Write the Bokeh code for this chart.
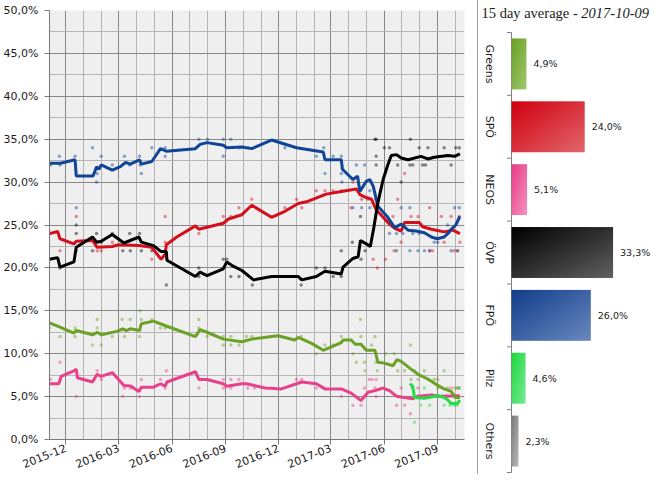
import math
import numpy as np
import pandas as pd
from bokeh.plotting import figure
from bokeh.models import FixedTicker, Range1d, DatetimeTickFormatter
from bokeh.layouts import row
from bokeh.embed import file_html
from bokeh.resources import INLINE
from bokeh.core.properties import value

# ---------------- data: 15 day averages (lines) ----------------
fpo_dates = ["2015-11-03","2015-11-22","2015-12-17","2015-12-19","2016-01-17","2016-01-23","2016-01-27","2016-01-31","2016-02-19","2016-03-04",
             "2016-03-13","2016-03-21","2016-04-06","2016-04-09","2016-04-27","2016-05-12","2016-05-22","2016-07-11","2016-07-19","2016-07-31",
             "2016-08-28","2016-09-03","2016-09-29","2016-10-16","2016-11-19","2017-01-01","2017-02-16","2017-02-19","2017-03-19","2017-03-21",
             "2017-04-08","2017-04-16","2017-04-20","2017-05-01","2017-05-07","2017-05-13","2017-05-21","2017-06-07","2017-06-19","2017-06-30",
             "2017-07-12","2017-07-26","2017-08-09","2017-08-21","2017-08-31","2017-09-12","2017-09-20","2017-09-24","2017-10-02","2017-10-09"]
fpo_vals = [32.2,32.2,32.6,30.7,30.7,31.8,31.5,32.0,31.4,31.8,
            32.3,32.1,32.6,32.1,32.4,33.9,33.6,33.9,34.4,34.6,
            34.3,34.0,34.1,33.9,34.9,34.0,33.5,32.6,32.6,31.5,
            30.3,30.7,28.9,30.1,30.3,29.5,27.2,25.9,24.7,25.1,
            24.4,24.3,24.1,23.6,23.4,23.6,24.1,24.5,25.0,26.0]

spo_dates = ["2015-11-03","2015-11-17","2015-11-21","2015-12-15","2015-12-19","2016-01-16","2016-01-24","2016-02-19","2016-03-01","2016-04-05",
             "2016-04-27","2016-05-13","2016-05-20","2016-05-22","2016-06-09","2016-07-11","2016-07-17","2016-08-28","2016-09-06","2016-09-29",
             "2016-10-16","2016-11-19","2016-12-12","2017-01-04","2017-01-18","2017-02-21","2017-03-19","2017-04-14","2017-04-20","2017-05-01",
             "2017-05-10","2017-05-18","2017-05-30","2017-06-10","2017-06-19","2017-06-30","2017-07-06","2017-07-31","2017-08-06","2017-08-21",
             "2017-09-12","2017-09-27","2017-10-09"]
spo_vals = [24.0,24.25,23.4,22.8,23.1,23.2,22.4,22.5,22.7,22.6,
            22.4,21.0,21.6,22.7,23.6,24.9,24.5,25.2,25.7,26.2,
            27.3,25.9,26.6,27.5,27.7,28.6,28.9,29.2,28.55,28.2,
            28.0,26.8,25.9,25.1,24.6,24.3,25.3,25.3,24.8,24.5,
            24.2,24.4,24.0]

ovp_dates = ["2015-11-03","2015-11-17","2015-11-21","2015-12-15","2015-12-19","2016-01-16","2016-01-23","2016-01-31","2016-02-19","2016-03-10",
             "2016-04-05","2016-04-09","2016-04-30","2016-05-13","2016-05-22","2016-05-23","2016-07-11","2016-07-19","2016-07-31","2016-08-28",
             "2016-09-03","2016-09-14","2016-09-29","2016-10-19","2016-11-19","2017-01-04","2017-01-10","2017-02-04","2017-02-19","2017-03-19",
             "2017-03-22","2017-04-08","2017-04-17","2017-04-21","2017-05-01","2017-05-08","2017-05-14","2017-05-21","2017-05-30","2017-06-07",
             "2017-06-13","2017-06-22","2017-06-30","2017-07-12","2017-08-03","2017-08-15","2017-08-26","2017-09-18","2017-09-30","2017-10-09"]
ovp_vals = [21.0,21.2,20.1,20.7,22.4,23.6,23.0,23.1,23.9,22.9,
            23.6,23.0,22.6,21.9,21.9,20.9,19.0,19.5,19.1,19.9,
            20.7,20.2,19.7,18.6,19.0,19.0,18.6,19.0,19.6,19.3,
            20.1,21.1,21.3,23.2,22.8,22.5,24.7,27.6,30.3,32.0,
            33.1,33.2,32.8,32.6,33.0,32.7,32.9,33.1,33.0,33.3]

gru_dates = ["2015-11-03","2015-11-21","2015-12-15","2015-12-19","2016-01-16","2016-01-24","2016-01-31","2016-02-27","2016-03-08","2016-03-14",
             "2016-03-21","2016-04-06","2016-04-09","2016-04-30","2016-05-23","2016-07-11","2016-07-19","2016-07-31","2016-08-28","2016-09-29",
             "2016-10-16","2016-11-30","2016-12-29","2017-01-04","2017-01-27","2017-02-16","2017-03-02","2017-03-19","2017-03-22","2017-04-05",
             "2017-04-12","2017-04-22","2017-05-01","2017-05-16","2017-05-21","2017-06-01","2017-06-16","2017-06-23","2017-06-30","2017-07-17",
             "2017-07-29","2017-08-15","2017-09-01","2017-09-12","2017-09-24","2017-10-01","2017-10-09"]
gru_vals = [13.6,13.1,12.4,12.7,12.2,12.5,12.2,12.6,12.9,12.7,
            12.9,12.7,13.5,13.8,13.2,12.0,12.8,12.5,11.7,11.4,
            11.7,12.1,11.6,11.9,11.2,10.4,10.8,11.3,11.6,11.6,
            11.1,11.1,10.4,10.4,9.0,8.9,8.6,9.3,9.1,8.2,
            7.6,7.05,6.3,5.9,5.6,4.9,4.9]

neos_dates = ["2015-11-03","2015-11-19","2015-11-23","2015-12-15","2015-12-19","2015-12-21","2016-01-16","2016-01-24","2016-01-31","2016-02-19",
              "2016-03-10","2016-03-21","2016-04-05","2016-04-09","2016-04-30","2016-05-12","2016-05-20","2016-05-23","2016-07-11","2016-07-17",
              "2016-07-31","2016-08-28","2016-09-03","2016-09-29","2016-10-07","2016-11-08","2016-12-06","2017-01-10","2017-02-04","2017-02-19",
              "2017-03-19","2017-04-05","2017-04-22","2017-05-04","2017-05-16","2017-05-30","2017-06-10","2017-06-22","2017-07-06","2017-07-20",
              "2017-07-29","2017-08-21","2017-09-04","2017-10-09"]
neos_vals = [6.5,6.5,7.35,8.0,8.2,7.2,6.7,7.6,7.35,7.8,
             6.3,6.25,5.6,6.1,6.1,6.5,6.2,6.7,7.9,7.0,
             7.0,6.5,6.2,6.5,6.5,6.0,5.9,6.7,6.5,5.9,
             5.9,5.4,4.55,5.5,5.7,6.0,5.7,5.05,4.9,4.75,
             5.05,5.2,5.05,5.1]

pilz_dates = ["2017-07-15","2017-07-20","2017-07-23","2017-08-09","2017-09-01","2017-09-12","2017-09-20","2017-09-24","2017-10-05","2017-10-09"]
pilz_vals = [6.5,6.2,4.9,4.8,5.1,4.9,4.5,4.2,4.2,4.6]

# ---------------- data: individual polls (points) ----------------
fpo_poll_dates = ["2015-11-05","2015-11-20","2015-11-21","2015-12-17","2015-12-19","2016-01-16","2016-01-24","2016-01-23","2016-01-31","2016-02-19",
                  "2016-03-11","2016-03-20","2016-04-06","2016-04-07","2016-04-09","2016-04-27","2016-05-20","2016-05-20","2016-07-17","2016-08-01",
                  "2016-08-28","2016-08-28","2016-09-10","2016-09-24","2016-10-10","2016-12-12","2017-02-04","2017-02-17","2017-02-19","2017-03-05",
                  "2017-03-19","2017-03-19","2017-03-20","2017-04-08","2017-04-14","2017-04-23","2017-04-28","2017-05-07","2017-05-07","2017-06-10",
                  "2017-06-22","2017-06-22","2017-06-30","2017-07-03","2017-07-15","2017-07-15","2017-07-20","2017-07-29","2017-07-31","2017-08-09",
                  "2017-08-18","2017-08-26","2017-09-01","2017-09-18","2017-09-24","2017-09-30","2017-10-05","2017-10-08"]
fpo_poll_vals = [32,33,32,33,27,34,31,30,33,32,
                 33,32,33,32,31,34,34,33,35,35,
                 35,33,35,34,34,34,33,34,31,33,
                 33,31,30,27,32,27,32,29,27,24,
                 24,22,27,24,27,22,24,22,24,22,
                 22,23,23,25,22,27,22,27]

spo_poll_dates = ["2015-11-21","2015-12-19","2015-12-19","2016-01-24","2016-01-31","2016-02-19","2016-04-27","2016-05-20","2016-05-20","2016-07-17",
                  "2016-08-28","2016-09-10","2016-09-24","2016-10-16","2016-12-12","2017-01-01","2017-01-10","2017-02-04","2017-02-19","2017-03-05",
                  "2017-03-19","2017-04-05","2017-04-08","2017-04-23","2017-05-04","2017-05-17","2017-05-18","2017-05-13","2017-05-20","2017-06-03",
                  "2017-06-16","2017-06-18","2017-06-24","2017-06-30","2017-07-06","2017-07-17","2017-07-29","2017-08-18","2017-08-18","2017-08-23",
                  "2017-09-07","2017-09-12","2017-09-24","2017-09-29","2017-10-05","2017-10-08","2017-10-09"]
spo_poll_vals = [22,26,22,22,22,23,21,26,23,24,
                 26,26,27,28,27,28,27,29,29,29,
                 29,27,30,28,28,28,27,21,20,21,
                 26,22,28,23,31,26,26,27,22,22,
                 26,23,26,22,22,26,23]

ovp_poll_dates = ["2015-11-21","2015-12-19","2015-12-19","2016-01-16","2016-01-23","2016-01-31","2016-02-19","2016-03-08","2016-03-20","2016-03-21",
                  "2016-04-06","2016-04-09","2016-04-27","2016-05-22","2016-07-17","2016-07-17","2016-08-28","2016-09-03","2016-09-10","2016-09-24",
                  "2016-10-17","2017-01-09","2017-02-04","2017-02-19","2017-03-05","2017-03-19","2017-03-19","2017-04-07","2017-04-21","2017-04-22",
                  "2017-04-29","2017-05-16","2017-05-18","2017-05-18","2017-05-18","2017-06-01","2017-06-10","2017-06-24","2017-06-30","2017-07-15",
                  "2017-07-16","2017-07-20","2017-07-31","2017-08-06","2017-08-11","2017-08-15","2017-09-12","2017-09-24","2017-10-02","2017-10-08"]
ovp_poll_vals = [20,25,24,22,24,23,24,22,24,22,
                 24,22,22,18,20,19,21,21,19,19,
                 18,18,20,20,19,19,22,23,26,21,
                 22,35,35,33,32,34,34,32,30,32,
                 35,32,34,32,32,34,34,32,34,34]

gru_poll_dates = ["2015-11-03","2015-11-21","2015-12-17","2015-12-17","2016-01-16","2016-01-24","2016-01-24","2016-01-31","2016-02-19","2016-03-07",
                  "2016-03-11","2016-03-21","2016-04-06","2016-04-07","2016-04-09","2016-04-27","2016-05-12","2016-05-20","2016-07-17","2016-07-17",
                  "2016-07-31","2016-08-28","2016-08-28","2016-09-10","2016-09-10","2016-09-24","2016-10-07","2016-10-16","2017-01-09","2017-02-04",
                  "2017-02-19","2017-03-05","2017-03-19","2017-04-08","2017-04-14","2017-04-21","2017-04-22","2017-04-28","2017-04-29","2017-05-16",
                  "2017-05-18","2017-05-20","2017-05-10","2017-06-03","2017-06-18","2017-06-24","2017-07-06","2017-07-16","2017-07-17","2017-07-23",
                  "2017-07-29","2017-08-09","2017-08-15","2017-08-26","2017-09-01","2017-09-01","2017-09-12","2017-09-18","2017-09-30","2017-10-05",
                  "2017-10-08"]
gru_poll_vals = [13,12,13,12,11,14,13,11,12,14,
                 12,14,12,15,14,14,13,13,14,13,
                 12,12,11,12,11,11,12,12,12,10,
                 11,11,12,10,9,14,12,9,8,12,
                 9,8,11,10,10,8,8,11,7,8,
                 7,8,7,7,6,7,8,6,6,6,
                 6]

neos_poll_dates = ["2015-11-05","2015-11-21","2015-12-19","2016-01-24","2016-01-31","2016-03-08","2016-03-11","2016-03-21","2016-04-06","2016-04-09",
                   "2016-05-12","2016-05-20","2016-05-22","2016-07-17","2016-08-28","2016-08-28","2016-09-10","2016-09-10","2016-09-24","2016-10-09",
                   "2016-10-21","2017-01-01","2017-01-10","2017-02-04","2017-03-19","2017-04-08","2017-04-22","2017-04-28","2017-05-06","2017-05-11",
                   "2017-05-18","2017-05-18","2017-05-16","2017-06-22","2017-06-30","2017-07-06","2017-07-16","2017-07-19","2017-07-29","2017-08-09",
                   "2017-08-26","2017-09-07","2017-09-18","2017-09-24","2017-10-05"]
neos_poll_vals = [7,9,5,8,7,5,6,6,5,7,
                  7,6,8,6,7,6,7,6,7,6,
                  6,7,7,6,5,4,4,6,7,7,
                  7,5,6,4,6,4,3,6,6,5,
                  5,5,5,6,6]

pilz_poll_dates = ["2017-07-23","2017-08-03","2017-08-09","2017-08-18","2017-08-26","2017-09-12","2017-09-22","2017-09-30","2017-10-05","2017-10-08"]
pilz_poll_vals = [2,4,6,4,5,4,4,4,4,6]

# ---------------- data: bar panel ----------------
bar_title = "15 day average - "
bar_date = "2017-10-09"
bar_parties = ["Greens", "SPÖ", "NEOS", "ÖVP", "FPÖ", "Pilz", "Others"]
bar_values = [4.9, 24.0, 5.1, 33.3, 26.0, 4.6, 2.3]

# ---------------- ticks ----------------
y_ticks = [0, 5, 10, 15, 20, 25, 30, 35, 40, 45, 50]
y_tick_labels = ["0,0%", "5,0%", "10,0%", "15,0%", "20,0%", "25,0%", "30,0%", "35,0%", "40,0%", "45,0%", "50,0%"]
x_tick_dates = ["2015-12-01", "2016-03-01", "2016-06-01", "2016-09-01", "2016-12-01", "2017-03-01", "2017-06-01", "2017-09-01"]
x_minor_dates = ["2015-11-01", "2016-01-01", "2016-02-01", "2016-04-01", "2016-05-01", "2016-07-01", "2016-08-01", "2016-10-01",
                 "2016-11-01", "2017-01-01", "2017-02-01", "2017-04-01", "2017-05-01", "2017-07-01", "2017-08-01", "2017-10-01"]


def ms(dates):
    return [pd.Timestamp(d).value / 1e6 for d in dates]


def no_align(p):
    try:
        p.frame_align = False
    except Exception:
        pass


FONT = "DejaVu Sans"
TXT = "#1b1b1b"

# ---------------- left: line chart ----------------
p1 = figure(width=477, height=474, x_axis_type="datetime",
            x_range=Range1d(pd.Timestamp("2015-11-03"), pd.Timestamp("2017-10-17")),
            y_range=Range1d(0, 50),
            output_backend="svg", toolbar_location=None,
            min_border_left=47, min_border_right=13, min_border_top=10, min_border_bottom=35,
            background_fill_color="#efefef", border_fill_color="white", outline_line_color=None)
no_align(p1)

p1.yaxis.ticker = FixedTicker(ticks=y_ticks, minor_ticks=[v + 2.5 for v in y_ticks[:-1]])
p1.yaxis.major_label_overrides = {t: l for t, l in zip(y_ticks, y_tick_labels)}
p1.xaxis.ticker = FixedTicker(ticks=ms(x_tick_dates), minor_ticks=ms(x_minor_dates))
p1.xaxis.formatter = DatetimeTickFormatter(days="%Y-%m", months="%Y-%m", years="%Y-%m")
p1.xaxis.major_label_orientation = 0.38

for ax in (p1.xaxis, p1.yaxis):
    ax.axis_line_color = "#7a7a7a"
    ax.major_tick_line_color = "#7a7a7a"
    ax.major_tick_out = 5
    ax.major_tick_in = 0
    ax.minor_tick_out = 0
    ax.minor_tick_in = 0
    ax.major_label_text_font = FONT
    ax.major_label_text_font_size = "11px"
    ax.major_label_text_color = TXT
p1.yaxis.major_label_standoff = 6
p1.xaxis.major_label_standoff = 3

for g in (p1.xgrid, p1.ygrid):
    g.grid_line_color = "#878787"
    g.grid_line_width = 1
    g.minor_grid_line_color = "#b5b5b5"
    g.minor_grid_line_width = 1

series = [
    ("NEOS", neos_dates, neos_vals, neos_poll_dates, neos_poll_vals, "#e8408a"),
    ("Greens", gru_dates, gru_vals, gru_poll_dates, gru_poll_vals, "#6ba124"),
    ("SPÖ", spo_dates, spo_vals, spo_poll_dates, spo_poll_vals, "#d40f1c"),
    ("FPÖ", fpo_dates, fpo_vals, fpo_poll_dates, fpo_poll_vals, "#0f4496"),
    ("ÖVP", ovp_dates, ovp_vals, ovp_poll_dates, ovp_poll_vals, "#000000"),
    ("Pilz", pilz_dates, pilz_vals, pilz_poll_dates, pilz_poll_vals, "#22dd44"),
]

for name, d, v, pd_, pv, c in series:
    p1.scatter(pd.to_datetime(pd_), pv, size=3.5, color=c, alpha=0.45, line_color=None)
for name, d, v, pd_, pv, c in series:
    p1.line(pd.to_datetime(d), v, line_width=3, color=c)

# ---------------- right: bar panel (frame fills whole panel) ----------------
n = len(bar_parties)
W2, H2 = 173, 474
KX = 3.05            # px per percent
AX = 33              # px from panel left to bar axis
BTOP, BBOT = 32, 472 # px of band area top / bottom inside panel
BAND = (BBOT - BTOP) / n
x0 = -AX / KX
x1 = (W2 - AX) / KX
y0 = -(H2 - BBOT) / BAND
y1 = n + BTOP / BAND

p2 = figure(width=W2, height=H2, x_range=Range1d(x0, x1), y_range=Range1d(y0, y1),
            output_backend="svg", toolbar_location=None,
            x_axis_location=None, y_axis_location=None,
            min_border_left=0, min_border_right=0, min_border_top=0, min_border_bottom=0,
            background_fill_color="white", border_fill_color="white", outline_line_color=None)
no_align(p2)
p2.styles = {"border-left": "1px solid #a0a0a0"}
p2.xgrid.visible = False
p2.ygrid.visible = False

# axis line and band ticks
p2.segment(x0=[0], y0=[0], x1=[0], y1=[n], line_color="#808080", line_width=1)
bounds = list(range(n + 1))
p2.segment(x0=[-4.5 / KX] * len(bounds), y0=bounds, x1=[0] * len(bounds), y1=bounds,
           line_color="#808080", line_width=1)

dark = [(0x68, 0xa0, 0x22), (0xd0, 0x00, 0x10), (0xe8, 0x3c, 0x88), (0x00, 0x00, 0x00),
        (0x12, 0x3e, 0x8a), (0x1e, 0xd8, 0x3e), (0x7a, 0x7a, 0x7a)]
light = [(0xa2, 0xca, 0x72), (0xe2, 0x66, 0x6c), (0xf4, 0x94, 0xc0), (0x60, 0x60, 0x60),
         (0x6a, 0x88, 0xbf), (0x76, 0xec, 0x94), (0xba, 0xba, 0xba)]

H, W = 40, 60
rr = np.linspace(0, 1, H)[:, None]
cc = np.linspace(0, 1, W)[None, :]
tt = (cc + (1 - rr)) / 2.0

centers = [n - i - 0.5 for i in range(n)]
for i, (party, val) in enumerate(zip(bar_parties, bar_values)):
    img = np.empty((H, W), dtype=np.uint32)
    view = img.view(dtype=np.uint8).reshape((H, W, 4))
    for k in range(3):
        view[:, :, k] = (dark[i][k] + (light[i][k] - dark[i][k]) * tt).astype(np.uint8)
    view[:, :, 3] = 255
    p2.image_rgba(image=[img], x=0, y=centers[i] - 0.405, dw=val, dh=0.81)

bar_text = [("%.1f%%" % v).replace(".", ",") for v in bar_values]
p2.text(x=[v + 7 / KX for v in bar_values], y=centers, text=bar_text,
        text_font=value(FONT), text_font_size="9.5px", text_color=TXT,
        text_baseline="middle", text_align="left")

# category labels, rotated to read top to bottom
p2.text(x=[x0 + 11 / KX] * n, y=centers, text=bar_parties, angle=-math.pi / 2,
        text_font=value(FONT), text_font_size="11px", text_color=TXT,
        text_baseline="middle", text_align="center")

# title: normal part and italic date
TFS = 14.5
ty = n + (BTOP - 12) / BAND
p2.text(x=[x0 + 3 / KX], y=[ty], text=[bar_title],
        text_font=value("Liberation Serif"), text_font_size="%gpx" % TFS, text_color=TXT,
        text_baseline="middle", text_align="left")
p2.text(x=[x0 + (3 + 6.886 * TFS) / KX], y=[ty], text=[bar_date],
        text_font=value("Liberation Serif"), text_font_size="%gpx" % TFS, text_font_style="italic",
        text_color=TXT, text_baseline="middle", text_align="left")

layout = row(p1, p2)
open("out.html", "w").write(file_html(layout, INLINE))
